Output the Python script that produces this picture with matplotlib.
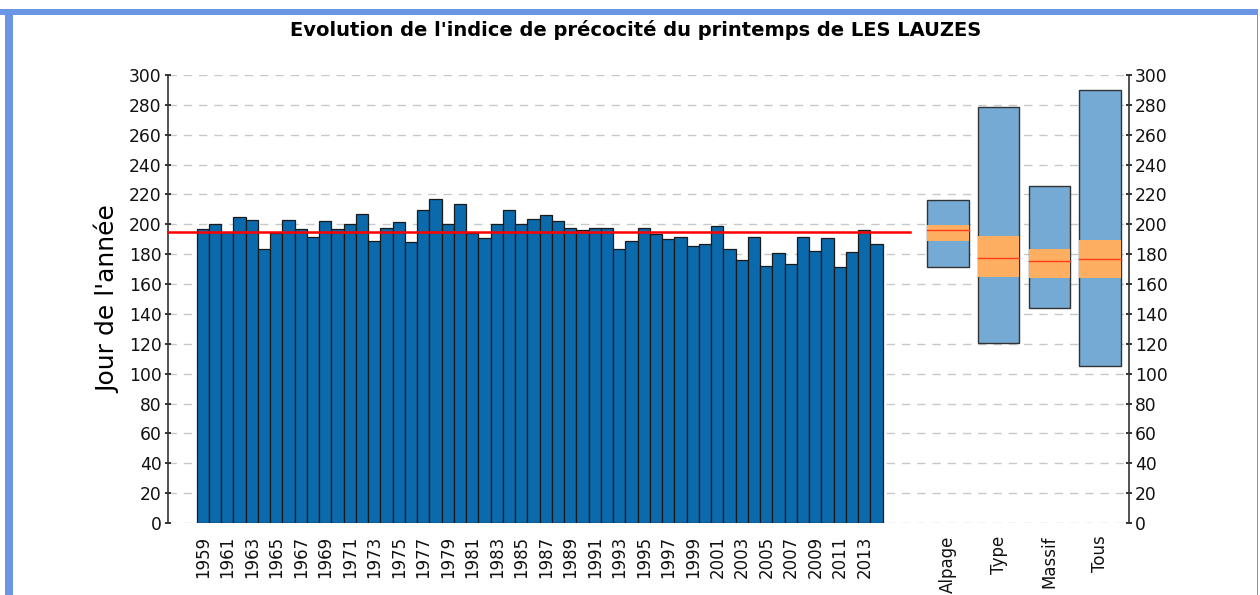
import matplotlib
matplotlib.use("Agg")
import matplotlib.pyplot as plt
from matplotlib.patches import Rectangle

years = list(range(1959, 2015))
values = [196.7, 200.0, 195.0, 204.9, 202.9, 183.3, 194.0, 202.9, 196.7, 191.7,
          202.2, 196.7, 200.0, 207.1, 189.1, 197.5, 201.3, 188.0, 209.4, 217.0,
          200.0, 213.8, 194.0, 191.0, 200.0, 209.4, 200.0, 203.8, 206.3, 202.0,
          197.3, 196.2, 197.3, 197.3, 183.3, 189.1, 197.3, 193.3, 190.0, 191.7,
          185.5, 186.8, 198.7, 183.3, 176.1, 191.7, 172.3, 181.0, 173.7, 191.7,
          182.4, 190.6, 171.4, 181.3, 196.2, 186.8]
mean_value = 194.7

box_labels = ["Alpage", "Type", "Massif", "Tous"]
box_min = [171.7, 120.3, 144.2, 105.4]
box_max = [216.5, 278.6, 225.9, 290.2]
box_q1 = [189.0, 164.7, 164.3, 164.3]
box_q3 = [199.5, 192.2, 183.5, 189.3]
box_med = [196.2, 177.7, 175.7, 176.8]

title = "Evolution de l'indice de précocité du printemps de LES LAUZES"
ylabel = "Jour de l'année"

plt.rcParams['font.family'] = ['DejaVu Sans']

fig = plt.figure(figsize=(12.6, 5.95), dpi=100)
W, H = 1260, 595
ax = fig.add_axes([168 / W, (595 - 523) / H, (1129 - 168) / W, (523 - 75) / H])

xs = list(range(len(years)))
ax.bar(xs, values, width=1.0, color="#0a6aab", edgecolor="#1a1a1a", linewidth=0.9, zorder=3)

xmin, xmax = -2.84, 75.6
ax.plot([xmin, 57.7], [mean_value, mean_value], color="#ff0000", lw=1.8, zorder=4)

box_pos = [60.8, 64.95, 69.1, 73.25]
bw = 3.4
for p, lo, hi, q1, q3, med in zip(box_pos, box_min, box_max, box_q1, box_q3, box_med):
    ax.add_patch(Rectangle((p - bw / 2, lo), bw, hi - lo, facecolor="#74aad3",
                           edgecolor="#333333", lw=1.0, zorder=3))
    ax.add_patch(Rectangle((p - bw / 2, q1), bw, q3 - q1, facecolor="#fdae61",
                           edgecolor="none", lw=0, zorder=4))
    ax.plot([p - bw / 2, p + bw / 2], [med, med], color="#ff3a1a", lw=1.0, zorder=5)

ax.set_xlim(xmin, xmax)
ax.set_ylim(0, 300)
ax.set_yticks(range(0, 301, 20))
ax.yaxis.grid(True, linestyle=(0, (6, 5)), color="#c8c8c8", lw=1.0, zorder=0)
ax.set_axisbelow(True)

tick_pos = [i for i, y in enumerate(years) if (y - 1959) % 2 == 0] + box_pos
tick_lab = [str(y) for y in years if (y - 1959) % 2 == 0] + box_labels
ax.set_xticks(tick_pos)
ax.set_xticklabels(tick_lab, rotation=90, fontsize=12, color="#111111")
ax.tick_params(axis="x", length=0, pad=9)
ax.tick_params(axis="y", labelsize=12.3, length=5, width=1.2, colors="#111111",
               left=True, right=True, labelleft=True, labelright=True, direction="inout",
               pad=2)

for s in ["top", "bottom"]:
    ax.spines[s].set_visible(False)
for s in ["left", "right"]:
    ax.spines[s].set_color("#333333")
    ax.spines[s].set_linewidth(1.2)

ax.set_ylabel(ylabel, fontsize=18, labelpad=6)
fig.text(636 / W, 1 - 30 / H, title, ha="center", va="center", fontsize=14, fontweight="bold")

# blue frame
fig.patches.append(Rectangle((0, 1 - 15 / H), 1258 / W, 6 / H, transform=fig.transFigure,
                             facecolor="#6b96e6", edgecolor="none", figure=fig))
fig.patches.append(Rectangle((5 / W, 0), 8 / W, 1 - 9 / H, transform=fig.transFigure,
                             facecolor="#6b96e6", edgecolor="none", figure=fig))
fig.patches.append(Rectangle((1256.5 / W, 0), 1.5 / W, 1 - 9 / H, transform=fig.transFigure,
                             facecolor="#6b96e6", edgecolor="none", figure=fig))

fig.savefig("out.png", dpi=100)
